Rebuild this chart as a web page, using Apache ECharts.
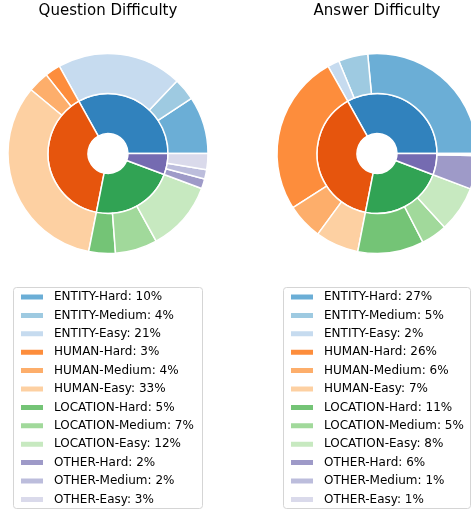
<!DOCTYPE html>
<html>
<head>
<meta charset="utf-8">
<script src="https://cdn.jsdelivr.net/npm/echarts@6/dist/echarts.min.js"></script>
<style>html,body{margin:0;padding:0;background:#fff;}#c{width:471px;height:510px;}</style>
</head>
<body>
<div id="c"></div>
<script>
const categories = ['ENTITY', 'HUMAN', 'LOCATION', 'OTHER'];
const levels = ['Hard', 'Medium', 'Easy'];
// percentages printed in the legends
const questionLabels = [10, 4, 21, 3, 4, 33, 5, 7, 12, 2, 2, 3];
const answerLabels = [27, 5, 2, 26, 6, 7, 11, 5, 8, 6, 1, 1];
// slice shares
const questionValues = [9.3, 3.6, 20.2, 2.5, 3.4, 32.9, 4.3, 6.8, 11.3, 1.6, 1.5, 2.6];
const answerValues = [26.5, 4.75, 1.9, 26.0, 5.8, 7.0, 10.7, 4.2, 7.45, 5.4, 0.2, 0.15];
const titles = ['Question Difficulty', 'Answer Difficulty'];

const innerColors = ['#3182bd', '#e6550d', '#31a354', '#756bb1'];
const outerColors = ['#6baed6', '#9ecae1', '#c6dbef', '#fd8d3c', '#fdae6b', '#fdd0a2',
                     '#74c476', '#a1d99b', '#c7e9c0', '#9e9ac8', '#bcbddc', '#dadaeb'];

const FONT = 'DejaVu Sans';
const panels = [
  {values: questionValues, labels: questionLabels, cx: 108, cy: 153.5, legendLeft: 19, box: [13.5, 287.5, 189, 221]},
  {values: answerValues, labels: answerLabels, cx: 377, cy: 153.5, legendLeft: 289, box: [283.5, 287.5, 187, 221]}
];

const series = [], legends = [], title = [], graphic = [];
panels.forEach((p, pi) => {
  const outer = [], inner = [];
  categories.forEach((c, ci) => {
    let sum = 0;
    levels.forEach((l, li) => {
      const idx = ci * 3 + li;
      const v = p.values[idx];
      sum += v;
      outer.push({name: c + '-' + l + ': ' + p.labels[idx] + '%', value: v, itemStyle: {color: outerColors[idx]}});
    });
    inner.push({name: c + '#' + pi, value: sum, itemStyle: {color: innerColors[ci]}});
  });
  const common = {
    type: 'pie', center: [p.cx, p.cy], startAngle: 0, clockwise: false,
    label: {show: false}, labelLine: {show: false}, silent: true,
    emphasis: {disabled: true}, animation: false,
    itemStyle: {borderColor: '#ffffff', borderWidth: 1.5}
  };
  series.push(Object.assign({}, common, {radius: [20, 60], data: inner}));
  series.push(Object.assign({}, common, {radius: [60, 100], data: outer}));
  legends.push({
    orient: 'vertical', left: p.legendLeft, top: 290, padding: 0,
    itemWidth: 24, itemHeight: 7, itemGap: 4.4, icon: 'rect',
    selectedMode: false,
    textStyle: {fontFamily: FONT, fontSize: 12, color: '#000', lineHeight: 14, padding: [0, 0, 0, 5]},
    data: outer.map(d => d.name)
  });
  title.push({
    text: titles[pi], left: p.cx, top: 4, textAlign: 'center', padding: 0,
    textStyle: {fontFamily: FONT, fontSize: 15, fontWeight: 'normal', color: '#000'}
  });
  graphic.push({
    type: 'rect', shape: {x: p.box[0], y: p.box[1], width: p.box[2], height: p.box[3], r: 3},
    style: {fill: '#fff', stroke: '#d5d5d5', lineWidth: 1}, z: -1
  });
});

const chart = echarts.init(document.getElementById('c'), null, {renderer: 'canvas'});
chart.setOption({
  backgroundColor: '#fff',
  animation: false,
  title: title,
  legend: legends,
  graphic: graphic,
  series: series
});
</script>
</body>
</html>
